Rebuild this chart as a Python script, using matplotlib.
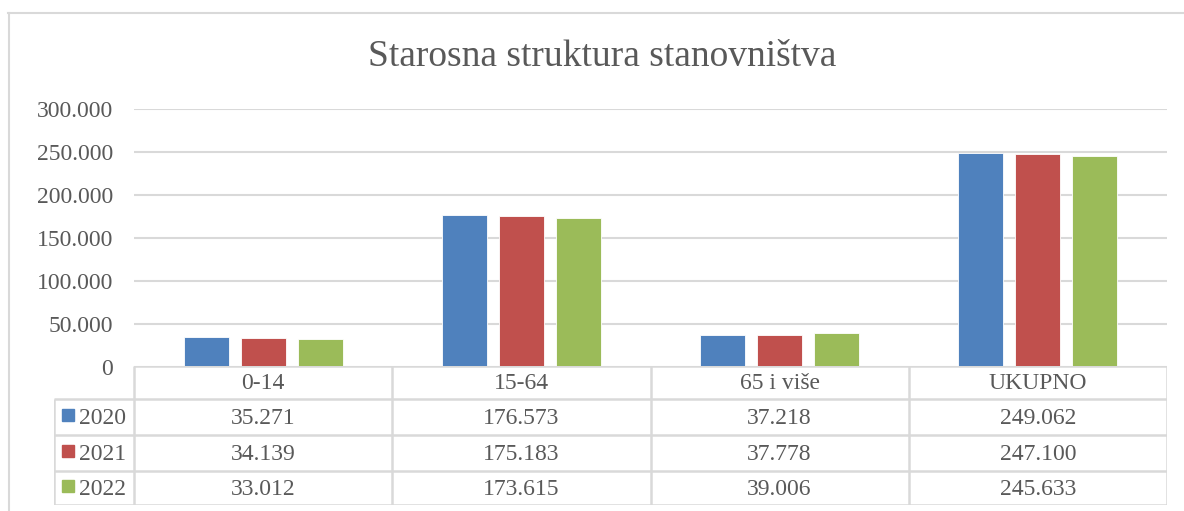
import matplotlib
matplotlib.use("Agg")
import matplotlib.pyplot as plt
from matplotlib.patches import Rectangle
from matplotlib.lines import Line2D

categories = ["0-14", "15-64", "65 i više", "UKUPNO"]
years = ["2020", "2021", "2022"]
v2020 = [35271, 176573, 37218, 249062]
v2021 = [34139, 175183, 37778, 247100]
v2022 = [33012, 173615, 39006, 245633]
series = [v2020, v2021, v2022]
colors = ["#4F81BD", "#C0504D", "#9BBB59"]
yticks = [0, 50000, 100000, 150000, 200000, 250000, 300000]
title = "Starosna struktura stanovništva"

def fmt(v):
    return "0" if v == 0 else f"{v:,}".replace(",", ".")

W, H = 1184, 511
fig = plt.figure(figsize=(W / 100, H / 100), dpi=100)
plt.rcParams['font.family'] = ['Liberation Serif', 'DejaVu Serif']
TXT = "#595959"
GRID = "#D9D9D9"

def fx(px):
    return px / W

def fy(py):
    return 1 - py / H

# outer border
fig.add_artist(Line2D([fx(8), 1.0], [fy(13), fy(13)], color=GRID, lw=1.5))
fig.add_artist(Line2D([fx(8.5), fx(8.5)], [fy(13), 0], color=GRID, lw=1.5))

left, right, top, bottom = 134, 1167, 109, 367
ax = fig.add_axes([fx(left), fy(bottom), fx(right) - fx(left), fy(top) - fy(bottom)])
ax.set_xlim(-0.5, 3.5)
ax.set_ylim(0, 300000)
ax.set_yticks(yticks)
ax.set_yticklabels([fmt(t) for t in yticks], fontsize=17, color=TXT)
ax.tick_params(axis='y', length=0, pad=15)
ax.set_xticks([])
for s in ax.spines.values():
    s.set_visible(False)
ax.grid(axis='y', color=GRID, lw=1.5)
ax.set_axisbelow(True)

bw = 0.174
step = 0.221
for i, (vals, c) in enumerate(zip(series, colors)):
    xs = [k + (i - 1) * step for k in range(len(categories))]
    ax.bar(xs, vals, width=bw, color=c, edgecolor="white", linewidth=0.6, zorder=3)

fig.text(fx(602), fy(57), title, fontsize=27, color=TXT, ha='center', va='center')

# data table
tleft = 54
tax = fig.add_axes([fx(tleft), fy(505), fx(right) - fx(tleft), fy(366) - fy(505)])
unit = (right - left) / 4.0
tax.set_xlim(-0.5 - (left - tleft) / unit, 3.5)
tax.set_ylim(505, 366)
tax.axis('off')
rows_y = [366, 399, 435, 471, 505]
lkw = dict(color=GRID, lw=1.8, solid_capstyle='butt')
tax.plot([-0.5, 3.5], [366, 366], **lkw)
xl = -0.5 - (left - tleft) / unit
for y in rows_y[1:]:
    tax.plot([xl, 3.5], [y, y], **lkw)
for k in range(5):
    tax.plot([k - 0.5, k - 0.5], [366, 505], **lkw)
tax.plot([xl, xl], [399, 505], **lkw)

for k, cat in enumerate(categories):
    tax.text(k, (rows_y[0] + rows_y[1]) / 2 + 1, cat, fontsize=17, color=TXT,
             ha='center', va='center')
    for r, vals in enumerate(series):
        tax.text(k, (rows_y[r + 1] + rows_y[r + 2]) / 2 + 1, fmt(vals[k]), fontsize=17,
                 color=TXT, ha='center', va='center')

sq = 12
for r, (yr, c) in enumerate(zip(years, colors)):
    yc = (rows_y[r + 1] + rows_y[r + 2]) / 2 - 2
    fig.add_artist(Rectangle((fx(62), fy(yc + sq / 2)), fx(sq), sq / H, color=c))
    fig.text(fx(79), fy(yc + 3), yr, fontsize=17, color=TXT, ha='left', va='center')

fig.savefig("out.png", dpi=100, facecolor="white")
